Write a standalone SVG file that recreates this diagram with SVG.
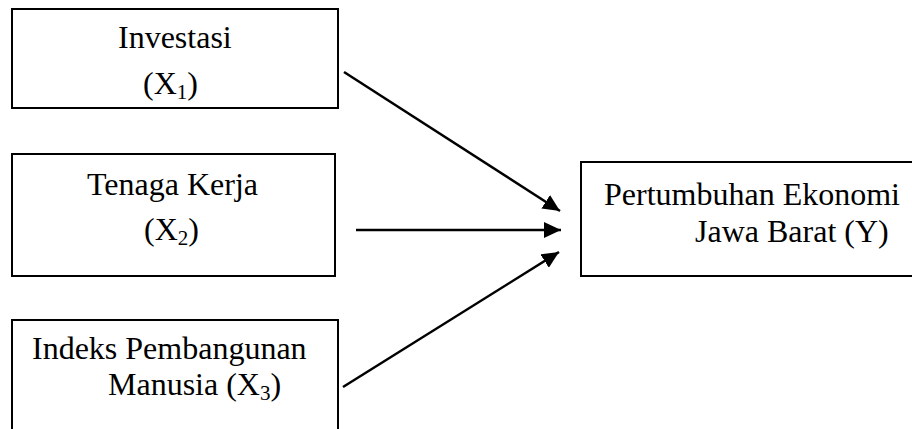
<svg xmlns="http://www.w3.org/2000/svg" width="912" height="429" viewBox="0 0 912 429">
<style>
.box{fill:#fff;stroke:#000;stroke-width:2}
.t{font-family:"Liberation Serif","Times New Roman",serif;font-size:32px;fill:#000}
.sub{font-size:21px}
.c{stroke:#000;stroke-width:2.5;fill:none;marker-end:url(#ah)}
</style>
<defs>
<marker id="ah" markerUnits="userSpaceOnUse" markerWidth="18" markerHeight="16" refX="17" refY="8" orient="auto">
<path d="M0,0 L17,8 L0,16 Z" fill="#000"/>
</marker>
</defs>
<rect width="912" height="429" fill="#fff"/>
<g id="x1">
<rect class="box" x="12" y="9" width="326" height="99"/>
<text class="t" x="118" y="48">Investasi</text>
<text class="t" x="143" y="94">(X<tspan class="sub" dy="5">1</tspan><tspan dy="-5">)</tspan></text>
</g>
<g id="x2">
<rect class="box" x="12" y="154" width="323" height="122"/>
<text class="t" x="87" y="195">Tenaga Kerja</text>
<text class="t" x="144" y="240">(X<tspan class="sub" dy="5">2</tspan><tspan dy="-5">)</tspan></text>
</g>
<g id="x3">
<rect class="box" x="12" y="320" width="326" height="120"/>
<text class="t" x="32" y="359">Indeks Pembangunan</text>
<text class="t" x="108" y="395">Manusia (X<tspan class="sub" dy="5">3</tspan><tspan dy="-5">)</tspan></text>
</g>
<g id="y">
<rect class="box" x="581" y="162" width="340" height="114"/>
<text class="t" x="604" y="205">Pertumbuhan Ekonomi</text>
<text class="t" x="695" y="242">Jawa Barat (Y)</text>
</g>
<g id="connectors">
<line class="c" x1="344" y1="72" x2="560" y2="211"/>
<line class="c" x1="356" y1="230" x2="561" y2="230"/>
<line class="c" x1="343" y1="387" x2="559" y2="252"/>
</g>
</svg>
